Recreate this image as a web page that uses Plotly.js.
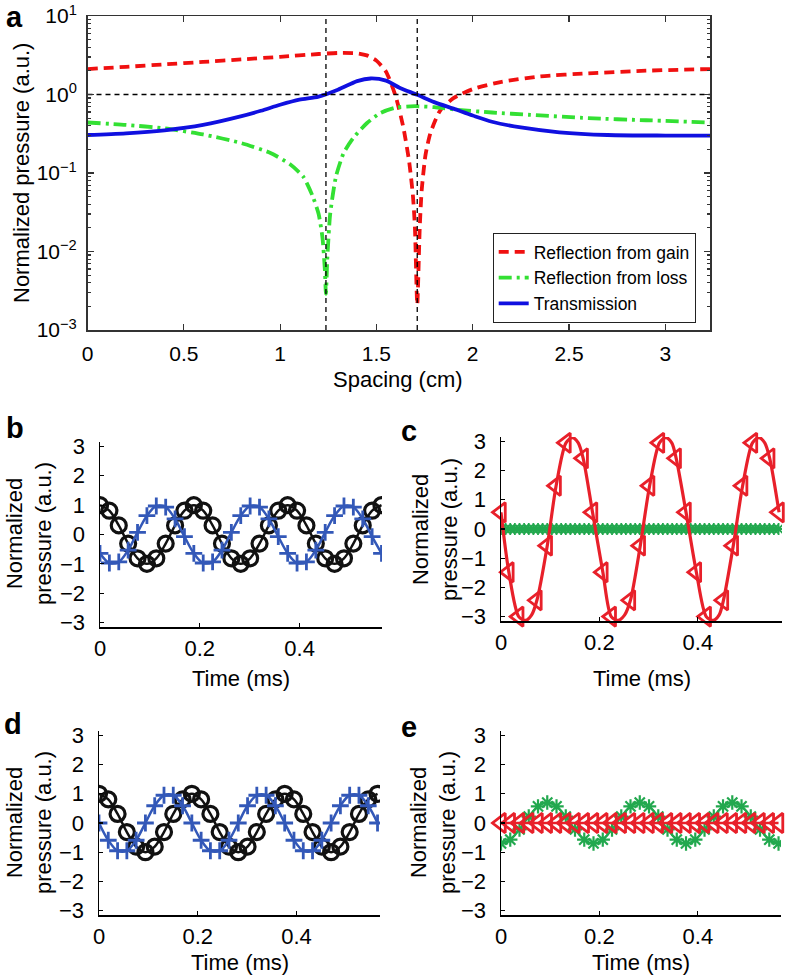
<!DOCTYPE html>
<html><head><meta charset="utf-8">
<script src="https://cdn.plot.ly/plotly-3.0.1.min.js"></script>
<style>html,body{margin:0;padding:0;background:#fff}</style>
</head><body><div id="chart" style="width:788px;height:977px"></div>
<script>
// ---------- Panel a data ----------
const gainX = [0,0.2,0.4,0.6,0.8,1.0,1.2,1.3,1.4,1.45,1.5,1.55,1.6,1.64,1.67,1.69,1.70,1.712,1.725,1.735,1.755,1.78,1.83,1.9,2.0,2.15,2.35,2.6,2.9,3.232];
const gainY = [2.11,2.25,2.42,2.6,2.8,3.02,3.28,3.38,3.35,3.15,2.7,1.95,0.95,0.38,0.14,0.05,0.02,0.0021,0.02,0.06,0.17,0.32,0.62,0.9,1.17,1.45,1.7,1.86,2.01,2.11];
const lossX = [0,0.2,0.4,0.6,0.8,0.95,1.05,1.12,1.17,1.2,1.22,1.232,1.238,1.245,1.26,1.29,1.33,1.38,1.45,1.52,1.6,1.7,1.8,1.92,2.1,2.3,2.6,2.9,3.232];
const lossY = [0.44,0.41,0.37,0.31,0.24,0.18,0.13,0.09,0.05,0.03,0.015,0.006,0.0029,0.008,0.03,0.09,0.18,0.28,0.43,0.58,0.68,0.71,0.69,0.64,0.59,0.55,0.5,0.47,0.44];
const transX = [0,0.2,0.4,0.6,0.8,0.9,1.0,1.1,1.2,1.3,1.4,1.47,1.55,1.62,1.712,1.8,1.9,2.0,2.1,2.25,2.45,2.7,3.0,3.232];
const transY = [0.305,0.32,0.35,0.41,0.53,0.62,0.74,0.86,0.94,1.15,1.48,1.6,1.5,1.22,0.99,0.8,0.66,0.54,0.45,0.38,0.33,0.305,0.30,0.30];
const refSpacing = [1.238, 1.712];
const refLevel = [1];
const aXTicks = [0,0.5,1,1.5,2,2.5,3];
const aXTickText = ['0','0.5','1','1.5','2','2.5','3'];
const aYTicks = [0.001,0.01,0.1,1,10];
const aYTickText = ['10<sup>\u22123</sup>','10<sup>\u22122</sup>','10<sup>\u22121</sup>','10<sup>0</sup>','10<sup>1</sup>'];
const seriesNames = ['Reflection from gain','Reflection from loss','Transmission'];

// ---------- Panels b-e data ----------
const t31 = [0,0.0188,0.0376,0.0564,0.0752,0.094,0.1128,0.1316,0.1504,0.1692,0.188,0.2068,0.2256,0.2444,0.2632,0.282,0.3008,0.3196,0.3384,0.3572,0.376,0.3948,0.4136,0.4324,0.4512,0.47,0.4888,0.5076,0.5264,0.5452,0.564];
const bBlack = [1,0.81,0.31,-0.31,-0.81,-1,-0.81,-0.31,0.31,0.81, 1,0.81,0.31,-0.31,-0.81,-1,-0.81,-0.31,0.31,0.81, 1,0.81,0.31,-0.31,-0.81,-1,-0.81,-0.31,0.31,0.81, 1];
const bBlue = [-0.64,-0.97,-0.93,-0.53,0.07,0.64,0.97,0.93,0.53,-0.07, -0.64,-0.97,-0.93,-0.53,0.07,0.64,0.97,0.93,0.53,-0.07, -0.64,-0.97,-0.93,-0.53,0.07,0.64,0.97,0.93,0.53,-0.07, -0.64];
const dBlack = [1,0.81,0.31,-0.31,-0.81,-1,-0.81,-0.31,0.31,0.81, 1,0.81,0.31,-0.31,-0.81,-1,-0.81,-0.31,0.31,0.81, 1,0.81,0.31,-0.31,-0.81,-1,-0.81,-0.31,0.31,0.81, 1];
const dBlue = [0,-0.59,-0.95,-0.95,-0.59,0,0.59,0.95,0.95,0.59, 0,-0.59,-0.95,-0.95,-0.59,0,0.59,0.95,0.95,0.59, 0,-0.59,-0.95,-0.95,-0.59,0,0.59,0.95,0.95,0.59, 0];
const eGreen = [-0.7,-0.57,-0.22,0.22,0.57,0.7,0.57,0.22,-0.22,-0.57, -0.7,-0.57,-0.22,0.22,0.57,0.7,0.57,0.22,-0.22,-0.57, -0.7,-0.57,-0.22,0.22,0.57,0.7,0.57,0.22,-0.22,-0.57, -0.7];
const eRed = [0,0,0,0,0,0,0,0,0,0, 0,0,0,0,0,0,0,0,0,0, 0,0,0,0,0,0,0,0,0,0, 0];
const cRedMarkT = [0,0.016,0.036,0.073,0.094,0.112,0.132,0.167,0.186,0.207,0.224,0.263,0.283,0.302,0.322,0.356,0.376,0.397,0.417,0.452,0.472,0.491,0.511,0.546,0.565];
const cRedMarkY = [0.57,-1.48,-3.0,-2.44,-0.57,1.48,2.95,2.42,0.57,-1.48,-3.0,-2.44,-0.57,1.48,2.95,2.42,0.57,-1.48,-3.0,-2.44,-0.57,1.48,2.95,2.42,0.57];
const cRedLineT = [0,0.016,0.036,0.05,0.062,0.073,0.094,0.112,0.132,0.145,0.157,0.167,0.186,0.207,0.224,0.238,0.251,0.263,0.283,0.302,0.322,0.335,0.347,0.356,0.376,0.397,0.417,0.431,0.443,0.452,0.472,0.491,0.511,0.524,0.536,0.546,0.565];
const cRedLineY = [0.57,-1.48,-3.0,-3.13,-2.95,-2.44,-0.57,1.48,2.95,3.13,2.95,2.42,0.57,-1.48,-3.0,-3.13,-2.95,-2.44,-0.57,1.48,2.95,3.13,2.95,2.42,0.57,-1.48,-3.0,-3.13,-2.95,-2.44,-0.57,1.48,2.95,3.13,2.95,2.42,0.57];
const t61 = [0,0.0094,0.0188,0.0282,0.0376,0.047,0.0564,0.0658,0.0752,0.0846,0.094,0.1034,0.1128,0.1222,0.1316,0.141,0.1504,0.1598,0.1692,0.1786,0.188,0.1974,0.2068,0.2162,0.2256,0.235,0.2444,0.2538,0.2632,0.2726,0.282,0.2914,0.3008,0.3102,0.3196,0.329,0.3384,0.3478,0.3572,0.3666,0.376,0.3854,0.3948,0.4042,0.4136,0.423,0.4324,0.4418,0.4512,0.4606,0.47,0.4794,0.4888,0.4982,0.5076,0.517,0.5264,0.5358,0.5452,0.5546,0.564];
const cGreen = [0,0,0,0,0,0,0,0,0,0,0,0,0,0,0,0,0,0,0,0,0,0,0,0,0,0,0,0,0,0,0,0,0,0,0,0,0,0,0,0,0,0,0,0,0,0,0,0,0,0,0,0,0,0,0,0,0,0,0,0,0];
const timeTicks = [0,0.2,0.4];
const timeTickText = ['0','0.2','0.4'];
const presTicks = [-3,-2,-1,0,1,2,3];
const presTickText = ['\u22123','\u22122','\u22121','0','1','2','3'];

// ---------- styling ----------
const W = 788, H = 977;
const px = v => v / W, py = v => 1 - v / H;
const FONT = 'Liberation Sans, Arial, Helvetica, sans-serif';
const RED_A = '#f01010', GREEN_A = '#33e033', BLUE_A = '#1010e0';
const BLK = '#111111', BLUE = '#3358b8', RED = '#e8202a', GREEN = '#22a84e';

const traces = [
  {x: gainX, y: gainY, name: seriesNames[0], mode: 'lines', line: {color: RED_A, width: 3.8, dash: '10px,6px', shape: 'spline', smoothing: 0.6}, xaxis: 'x', yaxis: 'y'},
  {x: lossX, y: lossY, name: seriesNames[1], mode: 'lines', line: {color: GREEN_A, width: 3.8, dash: '13px,5px,3px,5px', shape: 'spline', smoothing: 0.6}, xaxis: 'x', yaxis: 'y'},
  {x: transX, y: transY, name: seriesNames[2], mode: 'lines', line: {color: BLUE_A, width: 3.8, shape: 'spline', smoothing: 0.8}, xaxis: 'x', yaxis: 'y'},
  {x: [refSpacing[0], refSpacing[0]], y: [0.001, 10], mode: 'lines', showlegend: false, line: {color: '#000', width: 1.3, dash: '5px,4px'}, xaxis: 'x', yaxis: 'y'},
  {x: [refSpacing[1], refSpacing[1]], y: [0.001, 10], mode: 'lines', showlegend: false, line: {color: '#000', width: 1.3, dash: '5px,4px'}, xaxis: 'x', yaxis: 'y'},
  {x: [0, 3.232], y: [refLevel[0], refLevel[0]], mode: 'lines', showlegend: false, line: {color: '#000', width: 1.3, dash: '5px,4px'}, xaxis: 'x', yaxis: 'y'},
  // b
  {x: t31, y: bBlack, mode: 'lines+markers', showlegend: false, line: {color: BLK, width: 2.5, shape: 'spline'}, marker: {symbol: 'circle-open', size: 15, color: BLK, line: {width: 3.2, color: BLK}}, xaxis: 'x2', yaxis: 'y2'},
  {x: t31, y: bBlue, mode: 'lines+markers', showlegend: false, line: {color: BLUE, width: 2.5, shape: 'spline'}, marker: {symbol: 'cross-thin-open', size: 12, color: BLUE, line: {width: 2.8, color: BLUE}}, xaxis: 'x2', yaxis: 'y2'},
  // c
  {x: t61, y: cGreen, mode: 'lines+markers', showlegend: false, line: {color: GREEN, width: 2.5}, marker: {symbol: 'asterisk-open', size: 10, color: GREEN, line: {width: 1.8, color: GREEN}}, xaxis: 'x3', yaxis: 'y3'},
  {x: cRedLineT, y: cRedLineY, mode: 'lines', showlegend: false, line: {color: RED, width: 3.2, shape: 'spline', smoothing: 0.8}, xaxis: 'x3', yaxis: 'y3'},
  {x: cRedMarkT, y: cRedMarkY, mode: 'markers', showlegend: false, marker: {symbol: 'triangle-left-open', size: 17, color: RED, line: {width: 2.8, color: RED}}, cliponaxis: false, xaxis: 'x3', yaxis: 'y3'},
  // d
  {x: t31, y: dBlack, mode: 'lines+markers', showlegend: false, line: {color: BLK, width: 2.5, shape: 'spline'}, marker: {symbol: 'circle-open', size: 15, color: BLK, line: {width: 3.2, color: BLK}}, xaxis: 'x4', yaxis: 'y4'},
  {x: t31, y: dBlue, mode: 'lines+markers', showlegend: false, line: {color: BLUE, width: 2.5, shape: 'spline'}, marker: {symbol: 'cross-thin-open', size: 12, color: BLUE, line: {width: 2.8, color: BLUE}}, xaxis: 'x4', yaxis: 'y4'},
  // e
  {x: t31, y: eGreen, mode: 'lines+markers', showlegend: false, line: {color: GREEN, width: 2.2, shape: 'spline'}, marker: {symbol: 'asterisk-open', size: 12, color: GREEN, line: {width: 2.2, color: GREEN}}, xaxis: 'x5', yaxis: 'y5'},
  {x: t31, y: eRed, mode: 'lines+markers', showlegend: false, line: {color: RED, width: 2.5}, marker: {symbol: 'triangle-left-open', size: 17, color: RED, line: {width: 2.8, color: RED}}, cliponaxis: false, xaxis: 'x5', yaxis: 'y5'}
];

function timeAxis(domain, anchor, maxT) {
  return {domain: domain, anchor: anchor, range: [0, maxT], tickvals: timeTicks, ticktext: timeTickText,
    ticks: 'inside', ticklen: 4, tickwidth: 1.2, tickcolor: '#000', showline: true, linecolor: '#000', linewidth: 1.5,
    showgrid: false, zeroline: false, tickfont: {size: 22, family: FONT, color: '#000'}, ticklabelstandoff: 1, automargin: false};
}
function presAxis(domain, anchor) {
  return {domain: domain, anchor: anchor, range: [-3.15, 3.15], tickvals: presTicks, ticktext: presTickText,
    ticks: 'inside', ticklen: 4, tickwidth: 1.2, tickcolor: '#000', showline: true, linecolor: '#000', linewidth: 1.5,
    showgrid: false, zeroline: false, tickfont: {size: 22, family: FONT, color: '#000'}, ticklabelstandoff: 9, automargin: false};
}

const layout = {
  width: W, height: H, margin: {l: 0, r: 0, t: 0, b: 0},
  paper_bgcolor: '#fff', plot_bgcolor: 'rgba(0,0,0,0)',
  font: {family: FONT, color: '#000'},
  showlegend: true,
  legend: {x: px(695.7), y: py(233), xanchor: 'right', yanchor: 'top', bordercolor: '#222', borderwidth: 1,
    bgcolor: '#fff', font: {size: 17.5, family: FONT, color: '#000'}, tracegroupgap: 0},
  xaxis: {domain: [px(87.5), px(710)], anchor: 'y', range: [0, 3.232], tickvals: aXTicks, ticktext: aXTickText,
    ticks: 'inside', ticklen: 6, tickwidth: 1.2, tickcolor: '#333', mirror: 'allticks', showline: true, linecolor: '#333', linewidth: 1.5,
    showgrid: false, zeroline: false, tickfont: {size: 21, family: FONT, color: '#000'}, ticklabelstandoff: 4},
  yaxis: {domain: [py(330), py(16)], anchor: 'x', type: 'log', range: [-3, 1], tickvals: aYTicks, ticktext: aYTickText,
    ticks: 'inside', ticklen: 6, tickwidth: 1.2, tickcolor: '#333', mirror: 'allticks', showline: true, linecolor: '#333', linewidth: 1.5,
    showgrid: false, zeroline: false, tickfont: {size: 21, family: FONT, color: '#000'}, ticklabelstandoff: 5,
    minor: {ticks: 'inside', ticklen: 3, tickcolor: '#333', dtick: 'D1', showgrid: false}},
  xaxis2: timeAxis([px(100), px(382)], 'y2', 0.565),
  yaxis2: presAxis([py(627), py(442)], 'x2'),
  xaxis3: timeAxis([px(501), px(782)], 'y3', 0.571),
  yaxis3: presAxis([py(621), py(437)], 'x3'),
  xaxis4: timeAxis([px(99), px(380)], 'y4', 0.569),
  yaxis4: presAxis([py(915), py(731)], 'x4'),
  xaxis5: timeAxis([px(501), px(781)], 'y5', 0.569),
  yaxis5: presAxis([py(915), py(731)], 'x5'),
  annotations: []
};

function ann(text, x, y, size, opts) {
  return Object.assign({text: text, x: px(x), y: py(y), xref: 'paper', yref: 'paper', showarrow: false,
    xanchor: 'center', yanchor: 'middle', font: {size: size, family: FONT, color: '#000'}}, opts || {});
}
const letters = [['a', 14, 17], ['b', 15, 428], ['c', 409, 431], ['d', 13, 724], ['e', 409, 727]];
letters.forEach(l => layout.annotations.push(ann('<b>' + l[0] + '</b>', l[1], l[2], 29)));
layout.annotations.push(ann('Normalized pressure (a.u.)', 22, 173, 22, {textangle: -90}));
layout.annotations.push(ann('Spacing (cm)', 398, 379, 22));
const yTitle2 = 'Normalized<br>pressure (a.u.)';
[[29, 534], [435, 529], [29, 823], [433, 823]].forEach(p => layout.annotations.push(ann(yTitle2, p[0], p[1], 22, {textangle: -90})));
[[241, 678], [642, 678], [240, 962], [641, 962]].forEach(p => layout.annotations.push(ann('Time (ms)', p[0], p[1], 22)));

Plotly.newPlot('chart', traces, layout, {staticPlot: true, displayModeBar: false});
</script>
</body></html>
